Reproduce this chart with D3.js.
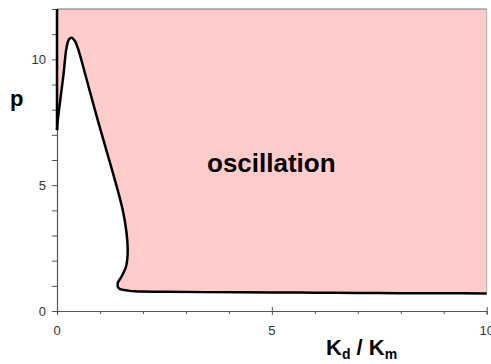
<!DOCTYPE html>
<html>
<head>
<meta charset="utf-8">
<script src="https://cdn.jsdelivr.net/npm/d3@7"></script>
<style>
  html, body { margin: 0; padding: 0; background: #fff; }
  svg { display: block; font-family: Arial, "Liberation Sans", sans-serif; }
</style>
</head>
<body>
<svg id="chart" width="491" height="364"></svg>
<script>
// Boundary of the oscillatory region in the (Kd/Km, p) plane
const kdRatio = [0, 0.02, 0.07, 0.15, 0.22, 0.28, 0.34, 0.42, 0.50, 0.69, 0.90,
                 1.12, 1.34, 1.53, 1.615, 1.645, 1.635, 1.60, 1.50, 1.41,
                 1.44, 1.66, 1.81, 2.5, 3.5, 5, 6, 7, 8, 9, 10];
const pBound  = [7.19, 7.6, 8.31, 9.38, 10.44, 10.80, 10.86, 10.72, 10.37, 9.20, 7.88,
                 6.56, 5.25, 4.01, 3.15, 2.5, 2.05, 1.72, 1.36, 1.10,
                 0.90, 0.81, 0.78, 0.76, 0.75, 0.74, 0.73, 0.72, 0.71, 0.71, 0.70];

const xDomain = [0, 10];
const yDomain = [0, 12];
const xTickLabels = [0, 5, 10];
const yTickLabels = [0, 5, 10];
const minorTicksX = d3.range(0, 11, 1);
const minorTicksY = d3.range(0, 12, 1);
const regionLabel = "oscillation";

const svg = d3.select("#chart");
const x = d3.scaleLinear().domain(xDomain).range([57, 486.7]);
const y = d3.scaleLinear().domain(yDomain).range([311, 9]);

const pts = kdRatio.map((k, i) => [k, pBound[i]]);

// Shaded region: above/right of the boundary curve
const curveGen = d3.line().x(d => x(d[0])).y(d => y(d[1])).curve(d3.curveCatmullRom.alpha(0.5));
const curvePath = curveGen(pts);
// Start at top-left, go down the p axis, follow the curve, close at top-right
const fillPath = `M${x(0)},${y(12)}` + "L" + curvePath.slice(1) + `L${x(10)},${y(12)}Z`;
svg.append("path").attr("d", fillPath).attr("fill", "#ffcccc").attr("stroke", "none");

// Frame on top and right
svg.append("line").attr("x1", x(0)).attr("x2", x(10)).attr("y1", y(12)).attr("y2", y(12))
  .attr("stroke", "#777").attr("stroke-width", 1);
svg.append("line").attr("x1", x(10)).attr("x2", x(10)).attr("y1", y(12)).attr("y2", y(pBound[pBound.length - 1]))
  .attr("stroke", "#aaa").attr("stroke-width", 1);

// Axes
const xAxis = d3.axisBottom(x).tickValues(minorTicksX).tickSize(3).tickFormat("");
const yAxis = d3.axisLeft(y).tickValues(minorTicksY).tickSize(5).tickFormat("");
const gx = svg.append("g").attr("transform", `translate(0,${y(0)})`).call(xAxis);
const gy = svg.append("g").attr("transform", `translate(${x(0)},0)`).call(yAxis);
[gx, gy].forEach(g => {
  g.select(".domain").attr("stroke", "#555").attr("stroke-width", 1.2);
  g.selectAll(".tick line").attr("stroke", "#555").attr("stroke-width", 1);
});
gx.selectAll(".tick").filter(d => xTickLabels.includes(d)).select("line").attr("y1", -4).attr("y2", 4);

// Tick labels
svg.append("g").selectAll("text").data(xTickLabels).join("text")
  .attr("x", d => x(d)).attr("y", 335)
  .attr("text-anchor", "middle").attr("font-size", 13).attr("fill", "#333")
  .text(d => d);
svg.append("g").selectAll("text").data(yTickLabels).join("text")
  .attr("x", 46).attr("y", d => y(d) + 4.5)
  .attr("text-anchor", "end").attr("font-size", 13).attr("fill", "#333")
  .text(d => d);

// Boundary: left edge along the p axis, then the curve
svg.append("line").attr("x1", x(0)).attr("x2", x(0)).attr("y1", y(12)).attr("y2", y(pBound[0]))
  .attr("stroke", "#000").attr("stroke-width", 2.5);
svg.append("path").attr("d", curvePath).attr("fill", "none")
  .attr("stroke", "#000").attr("stroke-width", 2.5).attr("stroke-linejoin", "round");

// Labels
svg.append("text").attr("x", 207).attr("y", 172).attr("font-size", 26).attr("font-weight", "bold")
  .attr("fill", "#000").text(regionLabel);
svg.append("text").attr("x", 10).attr("y", 106).attr("font-size", 22).attr("font-weight", "bold")
  .text("p");
const xl = svg.append("text").attr("x", 326).attr("y", 355).attr("font-size", 22).attr("font-weight", "bold");
xl.append("tspan").text("K");
xl.append("tspan").attr("font-size", 14).attr("dy", 4).text("d");
xl.append("tspan").attr("dy", -4).text(" / K");
xl.append("tspan").attr("font-size", 14).attr("dy", 4).text("m");
</script>
</body>
</html>
